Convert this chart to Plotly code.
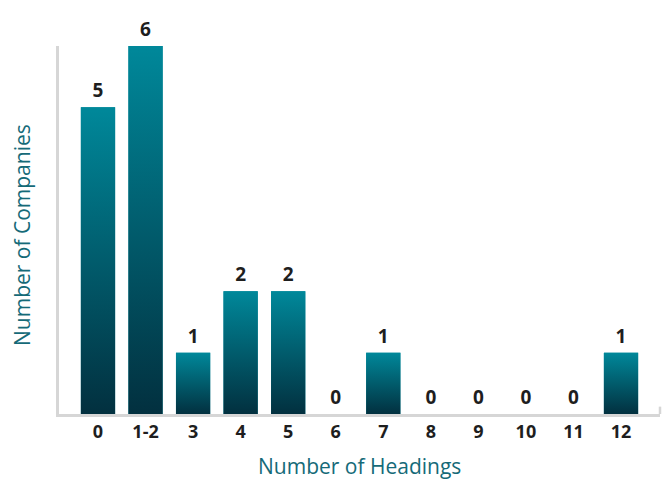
import plotly.graph_objects as go

categories = ["0", "1-2", "3", "4", "5", "6", "7", "8", "9", "10", "11", "12"]
companies = [5, 6, 1, 2, 2, 0, 1, 0, 0, 0, 0, 1]
x_title = "Number of Headings"
y_title = "Number of Companies"

TOP = "#00889a"
BOTTOM = "#02303f"
BAR_W = 0.72
positions = list(range(len(categories)))

TICK_FONT = dict(family="Open Sans", size=18, color="#1e1e1e", weight="bold")
LABEL_FONT = dict(family="Open Sans", size=19, color="#1e1e1e", weight="bold")
TITLE_FONT = dict(family="Open Sans", size=21, color="#156a78")

fig = go.Figure()

fig.add_trace(go.Bar(
    x=positions, y=companies, width=BAR_W,
    marker=dict(color=TOP, line=dict(width=0)),
    hoverinfo="skip", showlegend=False,
))

# gradient overlays for each bar, built from the data through the axes
for p, v in zip(positions, companies):
    if v <= 0:
        continue
    xs = [p - BAR_W / 2, p + BAR_W / 2, p + BAR_W / 2, p - BAR_W / 2, p - BAR_W / 2]
    ys = [0, 0, v, v, 0]
    fig.add_trace(go.Scatter(
        x=xs, y=ys, mode="lines", fill="toself",
        line=dict(width=0, color=TOP),
        fillgradient=dict(type="vertical", colorscale=[[0, BOTTOM], [1, TOP]]),
        hoverinfo="skip", showlegend=False,
    ))

# value labels
fig.add_trace(go.Scatter(
    x=positions, y=companies, mode="markers+text",
    marker=dict(size=7, color="rgba(0,0,0,0)"),
    text=[str(v) for v in companies], textposition="top center",
    textfont=LABEL_FONT, cliponaxis=False,
    hoverinfo="skip", showlegend=False,
))

fig.update_layout(
    width=667, height=479,
    margin=dict(l=59, r=7, t=46, b=65),
    paper_bgcolor="white", plot_bgcolor="white",
    xaxis=dict(
        range=[-0.82, 11.82], tickmode="array", tickvals=positions, ticktext=categories,
        showgrid=False, zeroline=False, showline=True, linecolor="#d6d6d6", linewidth=2.5,
        ticks="", ticklabelstandoff=0, automargin=False,
        tickfont=TICK_FONT,
    ),
    yaxis=dict(
        range=[0, 6], showgrid=False, zeroline=False, showline=True,
        linecolor="#d6d6d6", linewidth=2.5, showticklabels=False, ticks="",
        automargin=False,
    ),
    annotations=[
        dict(text=x_title, xref="paper", yref="paper", x=0.5, y=0,
             xanchor="center", yanchor="middle", yshift=-52, showarrow=False,
             font=TITLE_FONT),
        dict(text=y_title, xref="paper", yref="paper", x=0, y=0.5,
             xanchor="center", yanchor="middle", xshift=-37, yshift=-5,
             textangle=-90, showarrow=False, font=TITLE_FONT),
    ],
    shapes=[dict(type="line", xref="paper", yref="paper", x0=1, x1=1, y0=0, y1=0.02,
                 line=dict(color="#d6d6d6", width=2.5))],
)

fig.write_html("out.html", post_script="document.body.style.margin='0';",
               config={"displayModeBar": False})
